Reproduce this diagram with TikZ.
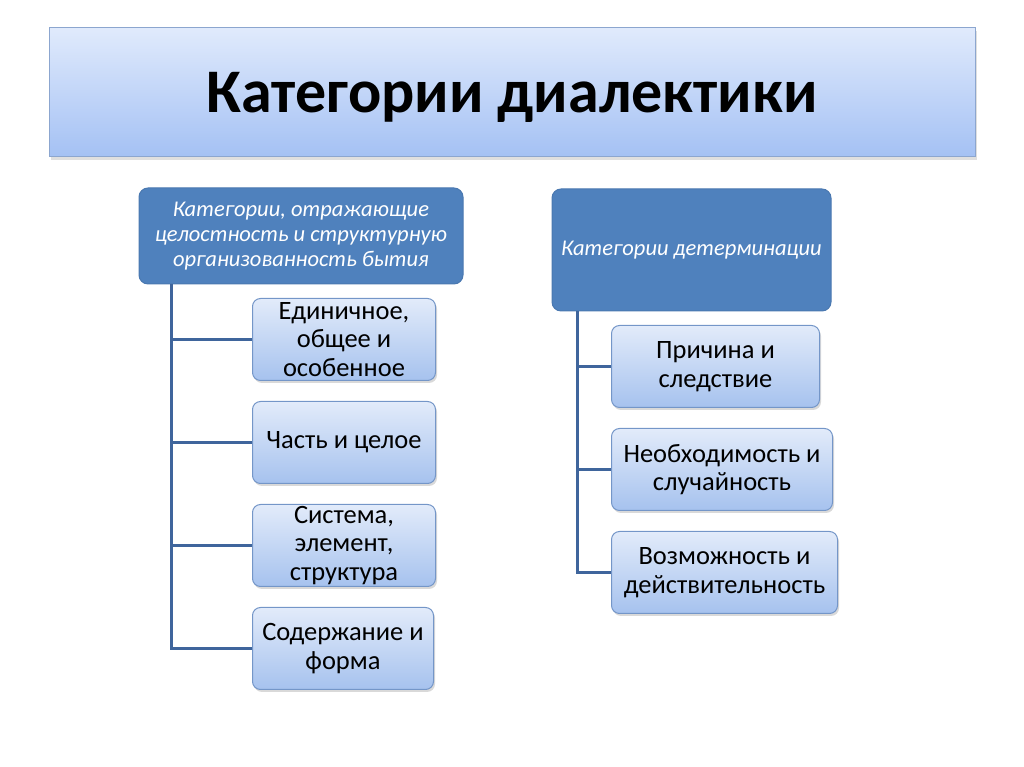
\documentclass[tikz,border=0pt]{standalone}
\usepackage{fontspec}
\setmainfont{Carlito}
\usetikzlibrary{positioning,shadows}
\definecolor{hdrblue}{HTML}{4F81BD}
\definecolor{hdredge}{HTML}{4A78B0}
\definecolor{boxtop}{HTML}{E2EBFA}
\definecolor{boxbot}{HTML}{A6C2EE}
\definecolor{boxedge}{HTML}{7496C8}
\definecolor{bantop}{HTML}{E0EAFC}
\definecolor{banbot}{HTML}{A4C1F4}
\definecolor{banedge}{HTML}{8CA6CF}
\definecolor{linecol}{HTML}{3F659C}
\tikzset{
    %Banner on top
    bannerbox/.style={
             rectangle,
             draw=banedge, line width=1,
             top color=bantop, bottom color=banbot,
             minimum width=926, minimum height=129,
             text depth=0pt,
             drop shadow={opacity=0.25, shadow xshift=2, shadow yshift=-3},
             font=\bfseries\fontsize{62}{70}\selectfont},
    %Dark group boxes
    headbox/.style={
             rectangle, rounded corners=9,
             fill=hdrblue, draw=hdredge, line width=1,
             text=white, align=center,
             font=\itshape\fontsize{22.5}{25}\selectfont},
    %Light category boxes
    catbox/.style={
             rectangle, rounded corners=8,
             draw=boxedge, line width=1,
             top color=boxtop, bottom color=boxbot,
             minimum height=82, inner ysep=0, align=center,
             drop shadow={opacity=0.3, shadow xshift=1.5, shadow yshift=-2.5},
             font=\fontsize{26.5}{28.5}\selectfont},
    % Connector style
    trunk/.style={
            draw=linecol,
            line width=2.5}
}
\begin{document}
\begin{tikzpicture}[x=1pt, y=1pt, node distance=20pt]
 \useasboundingbox (0,0) rectangle (1024,767);
 \node[bannerbox] (banner) at (512,674.5) {Категории диалектики};
 \node[headbox, minimum width=324, minimum height=96] (lhead) at (301,531)
      {Категории, отражающие\\целостность и структурную\\организованность бытия};
 \node[headbox, minimum width=279, minimum height=122] (rhead) at (691.5,517)
      {Категории детерминации};
 % left column
 \node[catbox, minimum width=183, anchor=north west] (l1) at (252,469) {Единичное,\\общее и\\особенное};
 \node[catbox, minimum width=183, below=of l1] (l2) {Часть и целое};
 \node[catbox, minimum width=183, below=of l2] (l3) {Система,\\элемент,\\структура};
 \node[catbox, minimum width=181, below=of l3.south west, anchor=north west] (l4) {Содержание и\\форма};
 % right column
 \node[catbox, minimum width=208, anchor=north west] (r1) at (611,442) {Причина и\\следствие};
 \node[catbox, minimum width=221, below=of r1.south west, anchor=north west] (r2) {Необходимость и\\случайность};
 \node[catbox, minimum width=226, below=of r2.south west, anchor=north west] (r3) {Возможность и\\действительность};
 \foreach \c in {l1,l2,l3,l4}
   \draw[trunk] ([xshift=33]lhead.south west) |- (\c.west);
 \foreach \c in {r1,r2,r3}
   \draw[trunk] ([xshift=26]rhead.south west) |- (\c.west);
\end{tikzpicture}
\end{document}
